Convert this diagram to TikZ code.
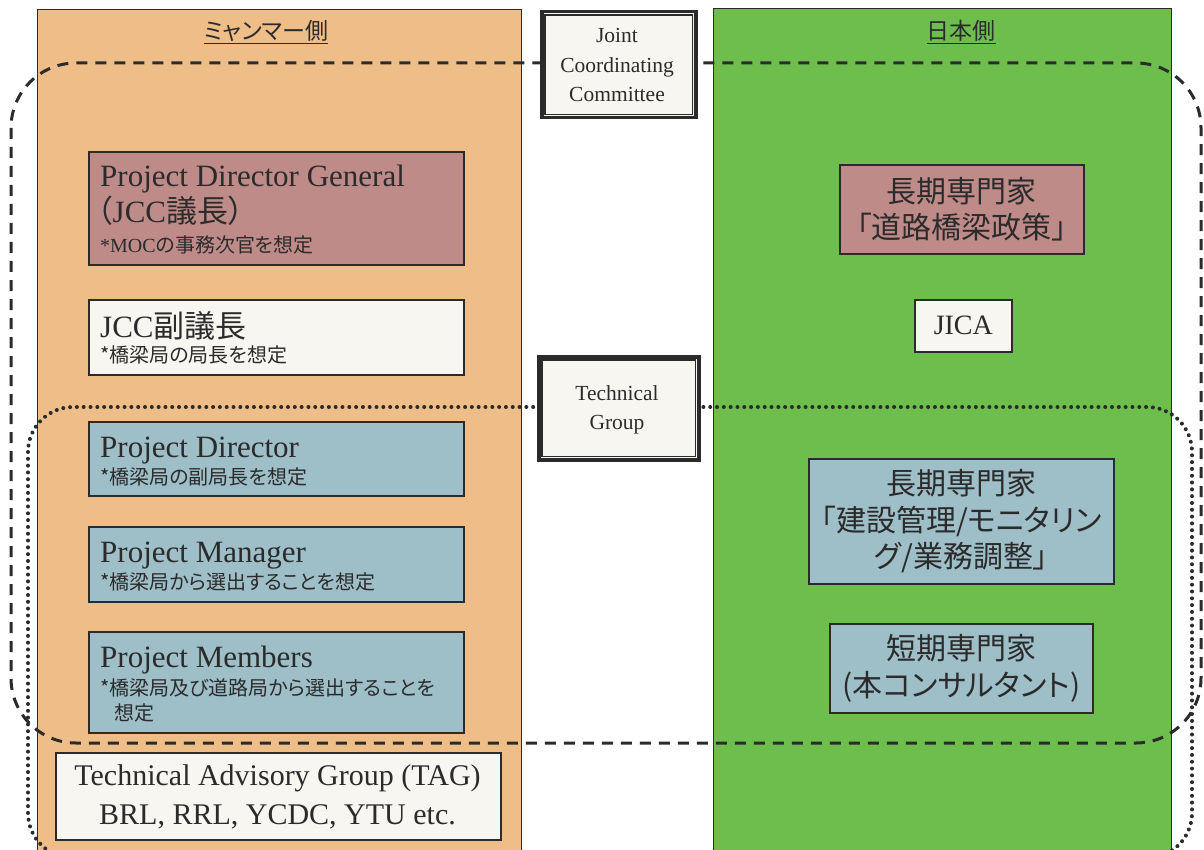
\documentclass[tikz,border=0pt]{standalone}
\usepackage{fontspec}
\setmainfont{Liberation Serif}
\newfontfamily\jp{Noto Sans CJK JP}[RawFeature=+palt]
\usetikzlibrary{calc}
\definecolor{orangep}{HTML}{EFBE88}
\definecolor{greenp}{HTML}{6DBE4C}
\definecolor{pinkb}{HTML}{BE8B89}
\definecolor{blueb}{HTML}{9EBEC8}
\definecolor{whiteb}{HTML}{F7F6F1}
\definecolor{ink}{HTML}{2B2B2B}
\tikzset{
  panel/.style={draw=ink, line width=1.4pt, inner sep=0pt, anchor=north west},
  box/.style={draw=ink, line width=1.6pt, inner sep=0pt, anchor=north west},
  lt/.style={inner sep=0pt, text=ink, anchor=base west, font=\fontsize{31}{36}\selectfont},
  nt/.style={inner sep=0pt, text=ink, anchor=base west, font=\jp\fontsize{20}{24}\selectfont},
  jt/.style={inner sep=0pt, text=ink, align=center, font=\jp\fontsize{30}{36.5}\selectfont},
  et/.style={inner sep=0pt, text=ink, align=center, font=\fontsize{21.5}{29.5}\selectfont},
  hd/.style={inner sep=0pt, text=ink, font=\jp\fontsize{23}{26}\selectfont},
  dashline/.style={draw=ink, line width=3pt, dash pattern=on 11pt off 8pt, rounded corners=65pt},
  dotline/.style={draw=ink, line width=4pt, dash pattern=on 0.01pt off 6.8pt, line cap=round, rounded corners=45pt},
}
\begin{document}
\begin{tikzpicture}[x=1pt,y=-1pt]
\useasboundingbox[fill=white] (0,0) rectangle (1204,850);
% panels
\node[panel, fill=orangep, minimum width=484pt, minimum height=860pt] (lp) at (37,9) {};
\node[panel, fill=greenp, minimum width=458pt, minimum height=860pt] (rp) at (713,8) {};
\node[hd] (lh) at (266,32) {\underline{ミャンマー側}};
\node[hd] (rh) at (961,32) {\underline{日本側}};
% group outlines
\draw[dashline] (11,63) rectangle (1201,743);
\draw[dotline] (28,407) rectangle (1192,858);
% middle boxes
\node[box, fill=whiteb, line width=3.5pt, minimum width=154pt, minimum height=106pt] (jcc) at (540,10) {};
\draw[ink, line width=1.3pt] ($(jcc.north west)+(5pt,-5pt)$) rectangle ($(jcc.south east)+(-5pt,5pt)$);
\node[et] (jcct) at (617,65) {Joint\\Coordinating\\Committee};
\node[box, fill=whiteb, line width=3.5pt, minimum width=160pt, minimum height=103pt] (tg) at (537,355) {};
\draw[ink, line width=1.3pt] ($(tg.north west)+(5pt,-5pt)$) rectangle ($(tg.south east)+(-5pt,5pt)$);
\node[et] (tgt) at (617,410) {Technical\\Group};
% left boxes
\node[box, fill=pinkb, minimum width=375pt, minimum height=113pt] (pdg) at (88,151) {};
\node[lt] (pdg1) at (100,187) {Project Director General};
\node[lt] (pdg2) at (97,223) {{\jp （}JCC{\jp 議長）}};
\node[nt] (pdg3) at (100,253) {{\rmfamily *MOC}の事務次官を想定};
\node[box, fill=whiteb, minimum width=375pt, minimum height=75pt] (vc) at (88,299) {};
\node[lt] (vc1) at (100,337) {JCC{\jp 副議長}};
\node[nt] (vc2) at (100,362) {*橋梁局の局長を想定};
\node[box, fill=blueb, minimum width=375pt, minimum height=74pt] (pd) at (88,421) {};
\node[lt] (pd1) at (100,457) {Project Director};
\node[nt] (pd2) at (100,484) {*橋梁局の副局長を想定};
\node[box, fill=blueb, minimum width=375pt, minimum height=75pt] (pm) at (88,526) {};
\node[lt] (pm1) at (100,562) {Project Manager};
\node[nt] (pm2) at (100,589) {*橋梁局から選出することを想定};
\node[box, fill=blueb, minimum width=375pt, minimum height=101pt] (pmb) at (88,631) {};
\node[lt] (pmb1) at (100,667) {Project Members};
\node[nt] (pmb2) at (100,695) {*橋梁局及び道路局から選出することを};
\node[nt] (pmb3) at (114,720) {想定};
\node[box, fill=whiteb, minimum width=445pt, minimum height=87pt] (tag) at (55,752) {};
\node[inner sep=0pt, text=ink, align=center, font=\fontsize{30}{39}\selectfont] (tagt) at (277.5,797) {Technical Advisory Group (TAG)\\BRL, RRL, YCDC, YTU etc.};
% right boxes
\node[box, fill=pinkb, minimum width=244pt, minimum height=89pt] (lt1) at (839,164) {};
\node[jt] (lt1t) at (lt1.center) {長期専門家\\「道路橋梁政策」};
\node[box, fill=whiteb, minimum width=97pt, minimum height=52pt] (jica) at (914,299) {};
\node[inner sep=0pt, text=ink, font=\fontsize{28}{32}\selectfont] (jicat) at (jica.center) {JICA};
\node[box, fill=blueb, minimum width=305pt, minimum height=125pt] (lt2) at (808,458) {};
\node[jt] (lt2t) at (lt2.center) {長期専門家\\「建設管理/モニタリン\\グ/業務調整」};
\node[box, fill=blueb, minimum width=263pt, minimum height=89pt] (st) at (829,623) {};
\node[jt] (stt) at (st.center) {短期専門家\\(本コンサルタント)};
\end{tikzpicture}
\end{document}
